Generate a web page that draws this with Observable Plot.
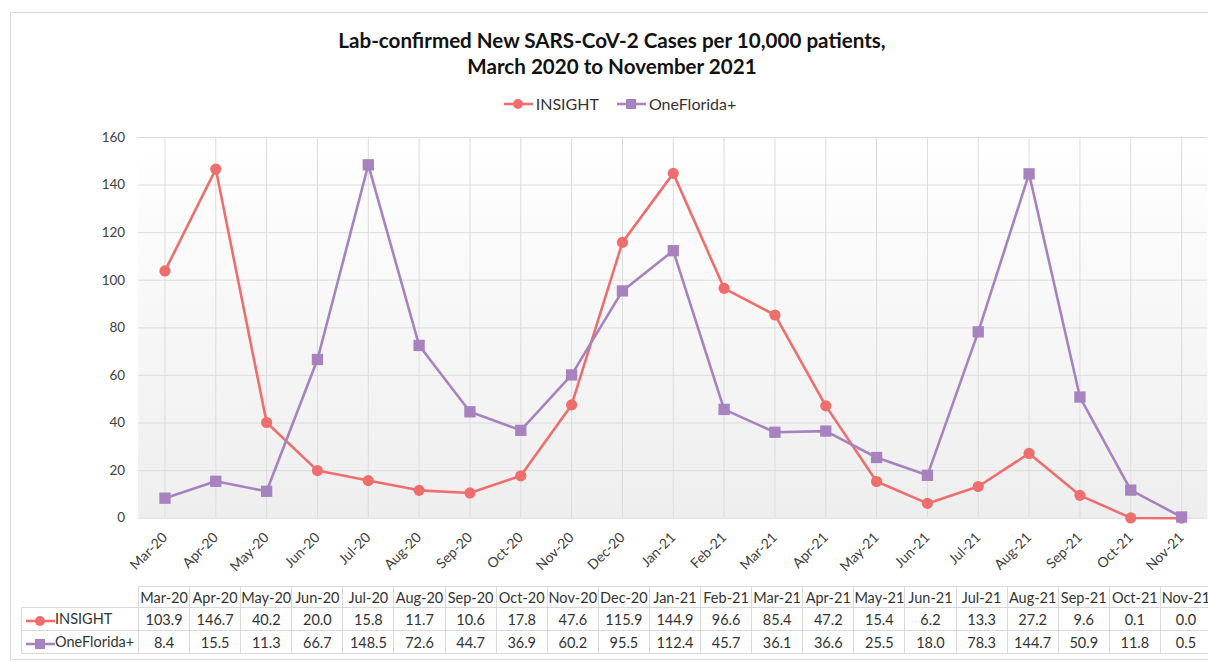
<!DOCTYPE html>
<html><head><meta charset="utf-8">
<script src="https://cdn.jsdelivr.net/npm/d3@7"></script>
<script src="https://cdn.jsdelivr.net/npm/@observablehq/plot@0.6"></script>
<style>
html,body{margin:0;padding:0}
body{width:1208px;height:662px;overflow:hidden;background:#fff;font-family:Lato,"Open Sans",sans-serif;position:relative}
#frame{position:absolute;left:10px;top:12px;width:1220px;height:648px;border:1px solid #d9d9d9;box-sizing:border-box}
#title{position:absolute;left:0;top:27px;width:1224px;text-align:center;font-weight:bold;font-size:20.6px;line-height:26px;color:#111}
#legend{position:absolute;top:94px;left:0;width:1240px;display:flex;justify-content:center;gap:18px;font-size:16px;color:#333;line-height:20px}
#legend span{display:flex;align-items:center;gap:3px}
#chart{position:absolute;left:0;top:120px}
#tbl{position:absolute;left:21px;top:586px;border-collapse:collapse;table-layout:fixed;font-size:14.5px;color:#333}
#tbl td{border:1px solid #d9d9d9;text-align:center;padding:0;white-space:nowrap;overflow:hidden}
#tbl tr.h td{height:20px}
#tbl tr.r td{height:22px}
#tbl td.lab{text-align:left;padding-left:4px}
#tbl td.blank{border:none;border-right:1px solid #d9d9d9}
.sw{vertical-align:middle}
</style>
</head><body>
<div id="frame"></div>
<div id="title">Lab-confirmed New SARS-CoV-2 Cases per 10,000 patients,<br>March 2020 to November 2021</div>
<div id="legend"></div>
<div id="chart"></div>
<table id="tbl"></table>
<script>
const months = ["Mar-20","Apr-20","May-20","Jun-20","Jul-20","Aug-20","Sep-20","Oct-20","Nov-20","Dec-20","Jan-21","Feb-21","Mar-21","Apr-21","May-21","Jun-21","Jul-21","Aug-21","Sep-21","Oct-21","Nov-21"];
const insight = [103.9,146.7,40.2,20.0,15.8,11.7,10.6,17.8,47.6,115.9,144.9,96.6,85.4,47.2,15.4,6.2,13.3,27.2,9.6,0.1,0.0];
const oneFlorida = [8.4,15.5,11.3,66.7,148.5,72.6,44.7,36.9,60.2,95.5,112.4,45.7,36.1,36.6,25.5,18.0,78.3,144.7,50.9,11.8,0.5];
const seriesNames = ["INSIGHT","OneFlorida+"];
const seriesColors = ["#ee6e6e","#a683bf"];
const seriesSymbols = ["circle","square"];
const yTicks = [0,20,40,60,80,100,120,140,160];

const rows = months.flatMap((m,i)=>[
  {month:m, series:seriesNames[0], value:insight[i]},
  {month:m, series:seriesNames[1], value:oneFlorida[i]}
]);

const W = 1212, ML = 138, MR = 1;
const defs = () => {
  const d = d3.create("svg:defs");
  const g = d.append("linearGradient").attr("id","bg").attr("x1",0).attr("y1",0).attr("x2",0).attr("y2",1);
  g.append("stop").attr("offset","0%").attr("stop-color","#ffffff");
  g.append("stop").attr("offset","100%").attr("stop-color","#eeeeee");
  return d.node();
};

const chart = Plot.plot({
  width: W, height: 462,
  marginLeft: ML, marginRight: MR, marginTop: 17, marginBottom: 63,
  style:{fontFamily:"Lato, 'Open Sans', sans-serif", fontSize:"13.5px", color:"#404040", background:"transparent", overflow:"visible"},
  x:{type:"point", domain:months, padding:0.5, label:null},
  y:{domain:[0,160], ticks:yTicks, label:null, tickSize:0, tickPadding:13},
  color:{domain:seriesNames, range:seriesColors},
  marks:[
    defs,
    Plot.frame({fill:"url(#bg)", stroke:null}),
    Plot.gridX({stroke:"#dcdcdc", strokeOpacity:1}),
    Plot.gridY(yTicks,{stroke:"#dcdcdc", strokeOpacity:1}),
    Plot.axisX({tickSize:0, tickRotate:-45, tickPadding:17, fontSize:14, label:null}),
    Plot.line(rows,{x:"month", y:"value", z:"series", stroke:"series", strokeWidth:2.6}),
    Plot.dot(rows.filter(d=>d.series===seriesNames[0]),{x:"month", y:"value", r:5.6, fill:seriesColors[0], symbol:"circle"}),
    Plot.dot(rows.filter(d=>d.series===seriesNames[1]),{x:"month", y:"value", r:6.4, fill:seriesColors[1], symbol:"square"})
  ]
});
document.getElementById("chart").appendChild(chart);

function swatch(color, symbol){
  const mk = symbol==="circle"
    ? `<circle cx="14" cy="7" r="5" fill="${color}"/>`
    : `<rect x="9" y="2" width="10" height="10" fill="${color}"/>`;
  return `<svg class="sw" width="29" height="14"><line x1="0" x2="29" y1="7" y2="7" stroke="${color}" stroke-width="2.6"/>${mk}</svg>`;
}
document.getElementById("legend").innerHTML = seriesNames.map((s,i)=>`<span>${swatch(seriesColors[i],seriesSymbols[i])}${s}</span>`).join("");

const step = (W - ML - MR)/months.length;
const tbl = document.getElementById("tbl");
let html = `<colgroup><col style="width:${ML-21}px">${months.map(()=>`<col style="width:${step}px">`).join("")}</colgroup>`;
html += `<tr class="h"><td class="blank"></td>${months.map(m=>`<td>${m}</td>`).join("")}</tr>`;
const vals = [insight, oneFlorida];
seriesNames.forEach((s,i)=>{
  html += `<tr class="r"><td class="lab">${swatch(seriesColors[i],seriesSymbols[i])}${s}</td>${vals[i].map(v=>`<td>${v.toFixed(1)}</td>`).join("")}</tr>`;
});
tbl.innerHTML = html;
tbl.style.width = (ML-21 + step*months.length) + "px";
</script>
</body></html>
